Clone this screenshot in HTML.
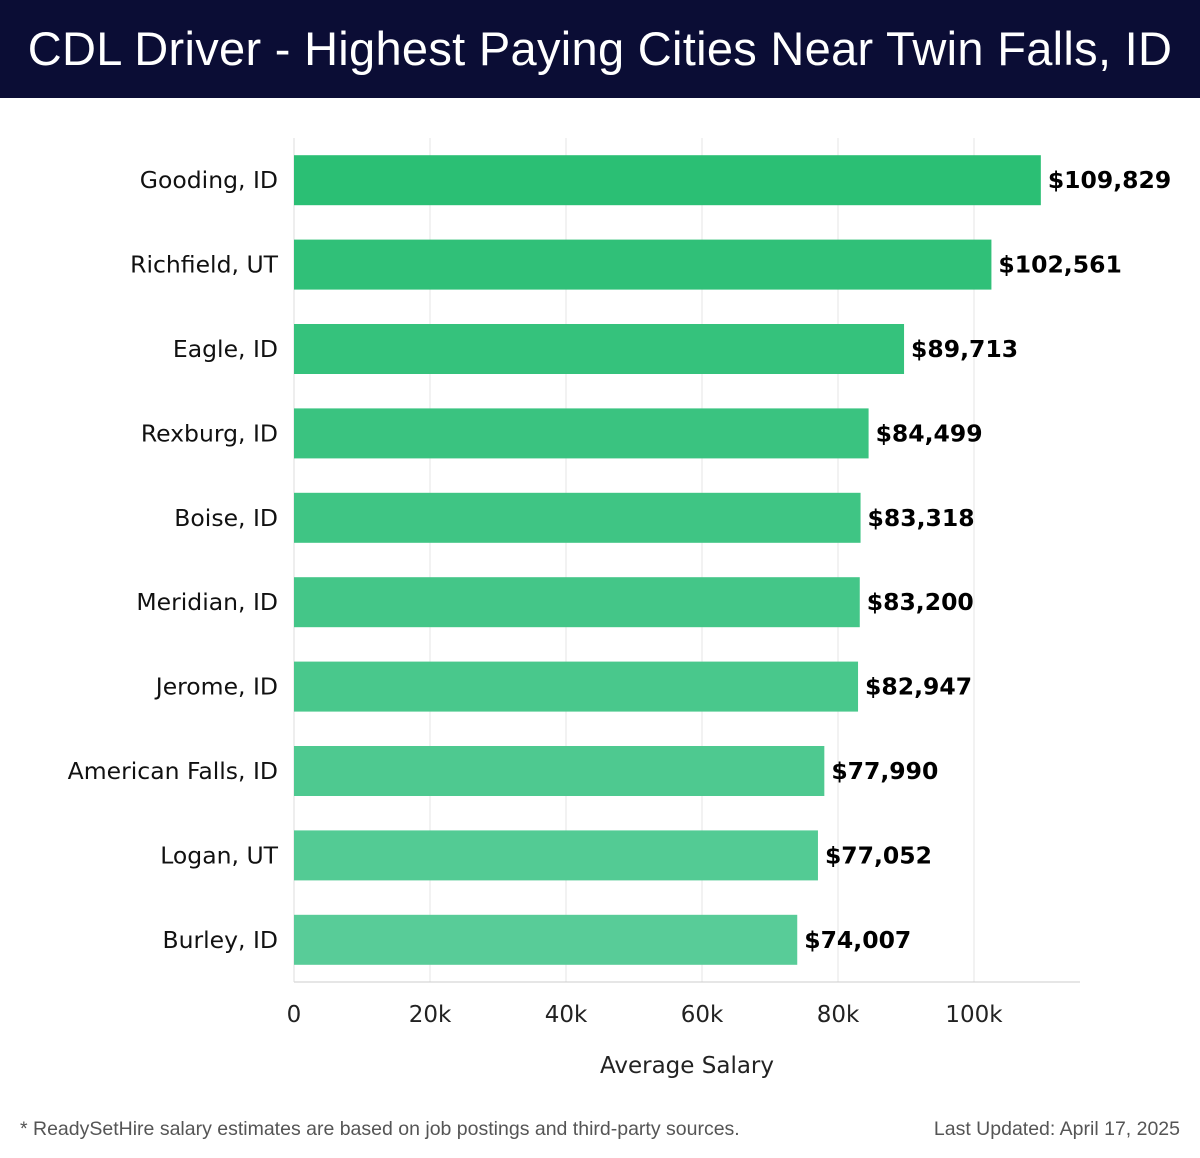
<!DOCTYPE html>
<html><head><meta charset="utf-8"><style>
body{margin:0;width:1200px;height:1158px;background:#fff;font-family:"Liberation Sans",sans-serif;overflow:hidden;position:relative}
#hdr{position:absolute;left:0;top:0;width:1200px;height:98px;background:#0b0d35;color:#fff;font-size:47px;line-height:98px;text-align:center;letter-spacing:0.3px}
.foot{position:absolute;top:1118px;font-size:19.5px;color:#555}
svg text{font-family:"DejaVu Sans",sans-serif}
</style></head><body>
<div id="hdr">CDL Driver - Highest Paying Cities Near Twin Falls, ID</div>
<svg id="chart" width="1200" height="1100" style="position:absolute;left:0;top:0"></svg>
<div class="foot" style="left:20px">* ReadySetHire salary estimates are based on job postings and third-party sources.</div>
<div class="foot" style="right:20px">Last Updated: April 17, 2025</div>
<script>
const categories=["Gooding, ID","Richfield, UT","Eagle, ID","Rexburg, ID","Boise, ID","Meridian, ID","Jerome, ID","American Falls, ID","Logan, UT","Burley, ID"];
const values=[109829,102561,89713,84499,83318,83200,82947,77990,77052,74007];
const ticks=[0,20000,40000,60000,80000,100000];
const tickLabels=["0","20k","40k","60k","80k","100k"];
const NS="http://www.w3.org/2000/svg";
const svg=document.getElementById('chart');
const x0=294,pxPer=136/20000,top0=138,band=84.4,barH=50;
const x=v=>x0+v*pxPer;
const y=i=>top0+i*band;
function mk(t,a){const e=document.createElementNS(NS,t);for(const k in a)e.setAttribute(k,a[k]);svg.appendChild(e);return e;}
ticks.forEach((t,i)=>{
  if(t>0){const g=mk('line',{x1:x(t),x2:x(t),y1:top0,y2:982,stroke:'#e6e6e6','stroke-width':1});
  
  }
  const l=mk('text',{x:x(t),y:1022,'text-anchor':'middle','font-size':23,fill:'#222'});
  l.textContent=tickLabels[i];
  
  
});
const ax=mk('line',{x1:x0,x2:1080,y1:982,y2:982,stroke:'#ccc','stroke-width':1});


const ay=mk('line',{x1:x0,x2:x0,y1:top0,y2:982,stroke:'#ddd','stroke-width':1});


categories.forEach((c,i)=>{
  const f=i/(categories.length-1);
  const r=Math.round(43+f*(88-43)),g=Math.round(191+f*(204-191)),b=Math.round(116+f*(152-116));
  const yy=y(i)+(band-barH)/2;
  const bar=mk('rect',{x:x0,y:yy,width:x(values[i])-x0,height:barH,fill:`rgb(${r},${g},${b})`});
  
  
  const lab=mk('text',{x:278,y:yy+barH/2+8,'text-anchor':'end','font-size':23.5,fill:'#111'});
  lab.textContent=c;
  
  
  const v=mk('text',{x:x(values[i])+7,y:yy+barH/2+8,'font-size':23.5,'font-weight':'bold',fill:'#000'});
  v.textContent='$'+values[i].toLocaleString('en-US');
  
  
});
const xt=mk('text',{x:687,y:1073,'text-anchor':'middle','font-size':23,fill:'#222'});
xt.textContent='Average Salary';


</script>
</body></html>
